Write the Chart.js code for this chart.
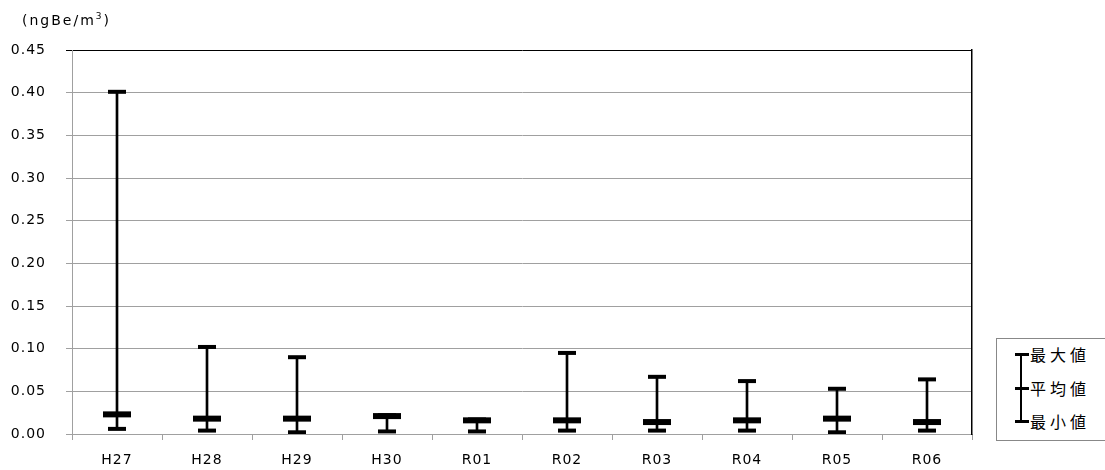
<!DOCTYPE html>
<html>
<head>
<meta charset="utf-8">
<script src="https://cdn.jsdelivr.net/npm/chart.js@4/dist/chart.umd.min.js"></script>
<style>
  html, body { margin: 0; padding: 0; background: #fff; }
  #wrap { position: relative; width: 1105px; height: 470px; }
  #unit { position: absolute; left: 22px; top: 11px; font: 14px "DejaVu Sans", sans-serif; letter-spacing: 2px; color: #000; }
  #legend { position: absolute; left: 996px; top: 338px; width: 120px; height: 103px;
            border: 1px solid #888; box-sizing: border-box; background: #fff;
            font: 16px "Noto Sans CJK JP", sans-serif; letter-spacing: 4px; color: #000; }
  #legend .row { position: absolute; left: 33px; line-height: 20px; }
  #legend .v { position: absolute; left: 23px; top: 15px; width: 2px; height: 68px; background: #000; }
  #legend .cap { position: absolute; left: 18px; width: 14px; height: 3px; background: #000; }
</style>
</head>
<body>
<div id="wrap">
  <canvas id="errChart" width="1105" height="470"></canvas>
  <div id="unit">(ngBe/m<sup style="font-size:9px">3</sup>)</div>
  <div id="legend">
    <div class="v"></div>
    <div class="cap" style="top:14px"></div>
    <div class="cap" style="top:48px"></div>
    <div class="cap" style="top:81px"></div>
    <div class="row" style="top:5px">最大値</div>
    <div class="row" style="top:39px">平均値</div>
    <div class="row" style="top:72px">最小値</div>
  </div>
</div>
<script>
// Fiscal years
const years = ['H27', 'H28', 'H29', 'H30', 'R01', 'R02', 'R03', 'R04', 'R05', 'R06'];
// Max / mean / min concentrations (ngBe/m3)
const maxVals  = [0.401, 0.102, 0.090, 0.022, 0.017, 0.095, 0.067, 0.062, 0.053, 0.064];
const meanVals = [0.023, 0.018, 0.018, 0.021, 0.016, 0.016, 0.014, 0.016, 0.018, 0.014];
const minVals  = [0.006, 0.004, 0.002, 0.003, 0.003, 0.004, 0.004, 0.004, 0.002, 0.004];
// Y axis
const yMin = 0, yMax = 0.45, yStep = 0.05;

const gridGray = '#a0a0a0';
const labelFont = { family: "'DejaVu Sans', sans-serif", size: 14 };

const capSet = (label, data, radius, width) => ({
  type: 'line',
  label: label,
  data: data,
  showLine: false,
  pointStyle: 'line',
  pointRadius: radius,
  pointHoverRadius: radius,
  pointBorderWidth: width,
  pointHoverBorderWidth: width,
  borderColor: '#000',
  order: 1
});

// wider letter spacing for axis labels, like the original
const spacing = {
  id: 'spacing',
  beforeDraw: chart => { chart.ctx.letterSpacing = '1px'; }
};

new Chart(document.getElementById('errChart'), {
  type: 'bar',
  data: {
    labels: years,
    datasets: [
      {
        label: 'range',
        data: minVals.map((v, i) => [v, maxVals[i]]),
        backgroundColor: '#000',
        barThickness: 2,
        order: 2
      },
      capSet('最大値', maxVals, 9, 4),
      capSet('平均値', meanVals, 14, 6),
      capSet('最小値', minVals, 9, 4)
    ]
  },
  plugins: [spacing],
  options: {
    responsive: false,
    animation: false,
    layout: { padding: { top: 50, right: 133, bottom: 0, left: 0 } },
    plugins: {
      legend: { display: false },
      tooltip: { enabled: false }
    },
    scales: {
      x: {
        afterFit: s => { s.height = 36; },
        grid: { display: true, drawOnChartArea: false, drawTicks: true, tickLength: 6, color: gridGray, offset: true },
        border: { color: gridGray },
        ticks: { color: '#000', font: labelFont, padding: 12 }
      },
      y: {
        min: yMin,
        max: yMax,
        afterFit: s => { s.width = 72; },
        grid: { color: ctx => ctx.tick && ctx.tick.value >= yMax - 1e-9 ? '#000' : gridGray, tickLength: 6, lineWidth: 1 },
        border: { color: gridGray },
        ticks: { stepSize: yStep, color: '#000', font: labelFont, padding: 20, callback: v => v.toFixed(2) }
      },
      yR: {
        position: 'right',
        min: yMin,
        max: yMax,
        afterFit: s => { s.width = 0; },
        grid: { drawOnChartArea: false, drawTicks: false },
        border: { color: '#000', width: 1.5 },
        ticks: { display: false }
      }
    }
  }
});
</script>
</body>
</html>
